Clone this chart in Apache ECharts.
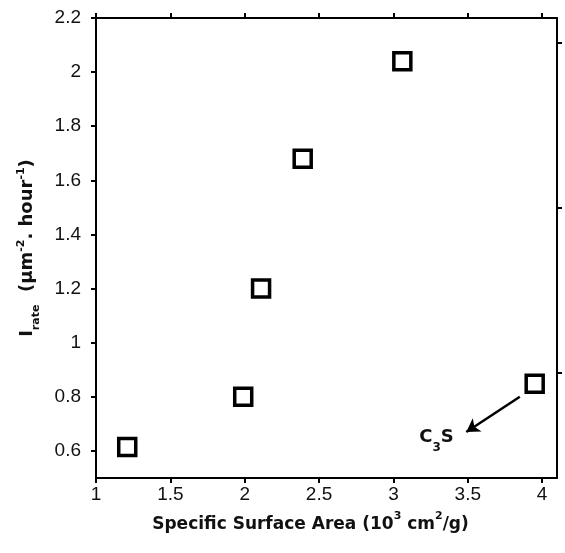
<!DOCTYPE html>
<html>
<head>
<meta charset="utf-8">
<script src="https://cdn.jsdelivr.net/npm/echarts@6/dist/echarts.min.js"></script>
<style>html,body{margin:0;padding:0;background:#fff;}#c{width:565px;height:553px;}</style>
</head>
<body>
<div id="c"></div>
<script>
// Data
var surfaceArea = [1.21, 1.99, 2.11, 2.39, 3.06, 3.95];
var irate       = [0.615, 0.80, 1.20, 1.68, 2.04, 0.848];
var xTicks = [1, 1.5, 2, 2.5, 3, 3.5, 4];
var yTicks = [0.6, 0.8, 1, 1.2, 1.4, 1.6, 1.8, 2, 2.2];
var rightTicks = [0.89, 1.5, 2.11];
var arrowFrom = [3.85, 0.80];
var arrowTo = [3.49, 0.67];
var c3sLabelAt = [3.29, 0.65];

var points = surfaceArea.map(function (x, i) { return [x, irate[i]]; });
var FONT = 'DejaVu Sans';
var TICKFONT = 'Liberation Sans';
var lineStyle = { color: '#000', width: 2 };

var chart = echarts.init(document.getElementById('c'), null, { renderer: 'canvas' });
chart.setOption({
  animation: false,
  backgroundColor: '#fff',
  grid: { left: 96, top: 18, right: 8, bottom: 75, containLabel: false },
  xAxis: [{
    type: 'value', min: 1, max: 4.1, position: 'bottom',
    axisLine: { show: true, lineStyle: lineStyle },
    axisTick: { show: true, length: 5, lineStyle: lineStyle, customValues: xTicks },
    axisLabel: { fontFamily: TICKFONT, fontSize: 19, color: '#111', margin: 7, customValues: xTicks },
    splitLine: { show: false },
    name: '{b|Specific Surface Area (10}{sup|3}{b| cm}{sup|2}{b|/g)}',
    nameLocation: 'middle', nameGap: 33,
    nameTextStyle: {
      padding: [0, 32, 0, 0],
      rich: {
        b: { fontFamily: FONT, fontWeight: 'bold', fontSize: 17, color: '#111', lineHeight: 22, verticalAlign: 'bottom' },
        sup: { fontFamily: FONT, fontWeight: 'bold', fontSize: 11, color: '#111', lineHeight: 22, verticalAlign: 'top' }
      }
    }
  }, {
    type: 'value', min: 1, max: 4.1, position: 'top',
    axisLine: { show: true, lineStyle: lineStyle },
    axisTick: { show: true, length: 5, lineStyle: lineStyle, customValues: xTicks },
    axisLabel: { show: false },
    splitLine: { show: false }
  }],
  yAxis: [{
    type: 'value', min: 0.5, max: 2.2, position: 'left',
    axisLine: { show: true, lineStyle: lineStyle },
    axisTick: { show: true, length: 5, lineStyle: lineStyle, customValues: yTicks },
    axisLabel: { fontFamily: TICKFONT, fontSize: 19, color: '#111', margin: 15, customValues: yTicks },
    splitLine: { show: false },
    name: '{b|I}{sub|rate}{b|  (μm}{sup|-2}{b|. hour}{sup|-1}{b|)}',
    nameLocation: 'middle', nameGap: 58, nameRotate: 90,
    nameTextStyle: {
      rich: {
        b: { fontFamily: FONT, fontWeight: 'bold', fontSize: 18, color: '#111', lineHeight: 22, verticalAlign: 'middle' },
        sup: { fontFamily: FONT, fontWeight: 'bold', fontSize: 11, color: '#111', lineHeight: 22, verticalAlign: 'top' },
        sub: { fontFamily: FONT, fontWeight: 'bold', fontSize: 11, color: '#111', lineHeight: 22, verticalAlign: 'bottom', padding: [0, 0, -4, 0] }
      }
    }
  }, {
    type: 'value', min: 0.5, max: 2.2, position: 'right',
    axisLine: { show: true, lineStyle: lineStyle },
    axisTick: { show: true, length: 5, lineStyle: lineStyle, customValues: rightTicks },
    axisLabel: { show: false },
    splitLine: { show: false }
  }],
  series: [{
    type: 'scatter',
    xAxisIndex: 0, yAxisIndex: 0,
    data: points,
    symbol: 'rect',
    symbolSize: 17,
    itemStyle: { color: '#fff', borderColor: '#000', borderWidth: 3.5, opacity: 1 },
    markLine: {
      silent: true,
      symbol: ['none', 'arrow'],
      symbolSize: [12, 13],
      lineStyle: { color: '#000', width: 2.5, type: 'solid' },
      label: { show: false },
      data: [[{ coord: arrowFrom }, { coord: arrowTo }]]
    },
    markPoint: {
      silent: true,
      symbol: 'circle',
      symbolSize: 1,
      itemStyle: { color: 'rgba(0,0,0,0)' },
      label: {
        show: true, position: 'inside',
        formatter: '{a|C}{s|3}{a|S}',
        rich: {
          a: { fontFamily: FONT, fontWeight: 'bold', fontSize: 18, color: '#111', lineHeight: 22, verticalAlign: 'middle' },
          s: { fontFamily: FONT, fontWeight: 'bold', fontSize: 12, color: '#111', lineHeight: 22, verticalAlign: 'bottom', padding: [0, 0, -5, 0] }
        }
      },
      data: [{ coord: c3sLabelAt }]
    }
  }]
});
</script>
</body>
</html>
